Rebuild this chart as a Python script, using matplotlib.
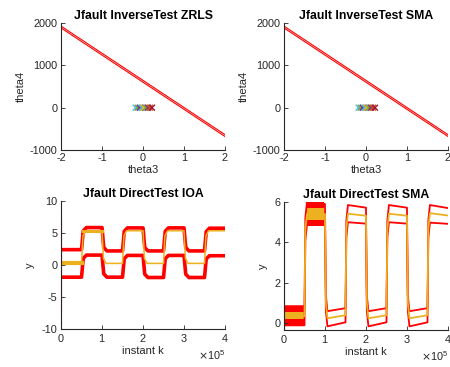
import numpy as np
import matplotlib
matplotlib.use("Agg")
import matplotlib.pyplot as plt

plt.rcParams['font.family'] = ['Liberation Sans', 'DejaVu Sans']
plt.rcParams['axes.unicode_minus'] = False

RED = "#FF0000"
ORANGE = "#EDB120"
GREY = "#262626"
TICK_FS = 7.8
LAB_FS = 8.0
TITLE_FS = 8.8

# --- top plots: line theta4 = f(theta3) and estimated points ---
line_theta3 = [-2.0, 2.0]
line_theta4 = [1905.0, -659.0]
line_gap = 22.0
pts_theta3 = [-0.18, -0.13, -0.08, -0.03, 0.02, 0.07, 0.12, 0.17, 0.22]
pts_theta4 = [0, 0, 0, 0, 0, 0, 0, 0, 0]
pts_colors = ["#4DBEEE", "#77AC30", "#7E2F8E", "#4DBEEE", "#EDB120",
              "#77AC30", "#7E2F8E", "#D95319", "#A2142F"]

# --- bottom plots: square-wave response, 8 segments of 0.5e5 ---
switch_k = [0.5e5, 1.0e5, 1.5e5, 2.0e5, 2.5e5, 3.0e5, 3.5e5]
k_end = 4.0e5

ioa_mid = [0.35, 5.3, 0.25, 5.35, 0.25, 5.35, 0.25, 5.35]
ioa_up = [2.4, 5.85, 2.2, 5.8, 2.2, 5.8, 2.2, 5.75]
ioa_lo = [-1.9, 1.55, -1.9, 1.5, -1.95, 1.5, -1.95, 1.45]
ioa_spike = [-7.0, 7.0]

sma_mid_start = [0.35, 5.4, 0.25, 5.42, 0.25, 5.42, 0.25, 5.45]
sma_mid_end = [0.35, 5.4, 0.4, 5.32, 0.4, 5.32, 0.4, 5.33]
sma_up_start = [0.85, 6.0, 0.6, 5.85, 0.6, 5.85, 0.6, 5.85]
sma_up_end = [0.85, 5.9, 0.75, 5.72, 0.75, 5.72, 0.75, 5.7]
sma_lo_start = [-0.1, 4.85, -0.15, 5.0, -0.15, 5.0, -0.15, 4.98]
sma_lo_end = [-0.1, 5.0, 0.05, 4.93, 0.05, 4.93, 0.05, 4.92]
sma_spike = [-0.3, 6.0]
# noisy bands of the first two segments (low, high)
sma_red_band = [(-0.1, 0.85), (4.8, 6.0)]
sma_org_band = [(0.2, 0.58), (5.1, 5.68)]


def step_path(starts, ends, rise):
    edges = [0.0] + switch_k + [k_end]
    ks, ys = [], []
    for i in range(len(starts)):
        a, b = edges[i], edges[i + 1]
        if i == 0:
            ks += [a, b]
            ys += [starts[i], ends[i]]
        else:
            prev = ends[i - 1]
            ks += [a + rise * 0.35, a + rise, b]
            ys += [prev + 0.85 * (starts[i] - prev), starts[i], ends[i]]
    return ks, ys


def style(ax):
    for s in ["top", "right"]:
        ax.spines[s].set_visible(False)
    for s in ["left", "bottom"]:
        ax.spines[s].set_color(GREY)
        ax.spines[s].set_linewidth(0.8)
    ax.tick_params(direction="in", length=3, labelsize=TICK_FS, colors=GREY, width=0.6, pad=2.5)


fig = plt.figure(figsize=(4.5, 3.67), dpi=100)
pos = {
    "tl": [0.1356, 0.5913, 0.3644, 0.346],
    "tr": [0.6311, 0.5913, 0.3644, 0.346],
    "bl": [0.1356, 0.1035, 0.3644, 0.3488],
    "br": [0.6311, 0.1008, 0.3644, 0.3488],
}

for key, title in [("tl", "Jfault InverseTest ZRLS"), ("tr", "Jfault InverseTest SMA")]:
    ax = fig.add_axes(pos[key])
    style(ax)
    for off in (-line_gap, line_gap):
        ax.plot(line_theta3, [v + off for v in line_theta4], color=RED, lw=0.8)
    ax.scatter(pts_theta3, pts_theta4, marker="x", c=pts_colors, s=18, lw=1.0, zorder=3)
    ax.set_xlim(-2, 2)
    ax.set_ylim(-1000, 2000)
    ax.set_xticks([-2, -1, 0, 1, 2])
    ax.set_yticks([-1000, 0, 1000, 2000])
    ax.set_xlabel("theta3", fontsize=LAB_FS, color=GREY, labelpad=1)
    ax.set_ylabel("theta4", fontsize=LAB_FS, color=GREY, labelpad=3)
    ax.set_title(title, fontsize=TITLE_FS, fontweight="bold", pad=3)

# IOA
ax = fig.add_axes(pos["bl"])
style(ax)
for lv in (ioa_up, ioa_lo):
    ks, ys = step_path(lv, lv, 0.12e5)
    ax.plot(ks, ys, color=RED, lw=2.6, solid_joinstyle="round")
ks, ys = step_path(ioa_mid, ioa_mid, 0.1e5)
ax.plot(ks, ys, color=ORANGE, lw=1.1)
ax.plot([0, switch_k[0]], [ioa_mid[0], ioa_mid[0]], color=ORANGE, lw=3.0)
ax.plot([0.53e5, switch_k[1]], [ioa_mid[1], ioa_mid[1]], color=ORANGE, lw=2.2)
ax.plot([0, 0], ioa_spike, color=RED, lw=1.5)
ax.set_xlim(0, 4e5)
ax.set_ylim(-10, 10)
ax.set_yticks([-10, -5, 0, 5, 10])
ax.set_xticks([0, 1e5, 2e5, 3e5, 4e5])
ax.ticklabel_format(axis="x", style="sci", scilimits=(0, 0), useMathText=True)
ax.xaxis.get_offset_text().set_fontsize(TICK_FS)
ax.xaxis.get_offset_text().set_color(GREY)
ax.set_xlabel("instant k", fontsize=LAB_FS, color=GREY, labelpad=1)
ax.set_ylabel("y", fontsize=LAB_FS, color=GREY, labelpad=5)
ax.set_title("Jfault DirectTest IOA", fontsize=TITLE_FS, fontweight="bold", pad=3)

# SMA
ax = fig.add_axes(pos["br"])
style(ax)
for s, e in [(sma_up_start, sma_up_end), (sma_lo_start, sma_lo_end)]:
    ks, ys = step_path(s, e, 0.06e5)
    ax.plot(ks, ys, color=RED, lw=1.3)
ks, ys = step_path(sma_mid_start, sma_mid_end, 0.06e5)
ax.plot(ks, ys, color=ORANGE, lw=1.3)
seg_k = [(0, 0.5e5), (0.53e5, 0.97e5)]
for (a, b), (rl, rh), (ol, oh) in zip(seg_k, sma_red_band, sma_org_band):
    ax.fill_between([a, b], [rl, rl], [rh, rh], color=RED, lw=0)
    ax.fill_between([a, b], [ol, ol], [oh, oh], color=ORANGE, lw=0)
ax.plot([0, 0], sma_spike, color=RED, lw=1.5)
ax.set_xlim(0, 4e5)
ax.set_ylim(-0.33, 6)
ax.set_yticks([0, 2, 4, 6])
ax.set_xticks([0, 1e5, 2e5, 3e5, 4e5])
ax.ticklabel_format(axis="x", style="sci", scilimits=(0, 0), useMathText=True)
ax.xaxis.get_offset_text().set_fontsize(TICK_FS)
ax.xaxis.get_offset_text().set_color(GREY)
ax.set_xlabel("instant k", fontsize=LAB_FS, color=GREY, labelpad=1)
ax.set_ylabel("y", fontsize=LAB_FS, color=GREY, labelpad=5)
ax.set_title("Jfault DirectTest SMA", fontsize=TITLE_FS, fontweight="bold", pad=3)

fig.savefig("out.png", dpi=100)
